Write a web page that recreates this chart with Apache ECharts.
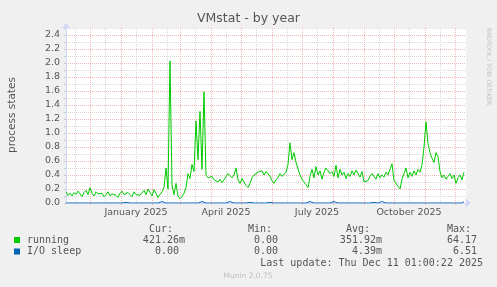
<!DOCTYPE html>
<html><head><meta charset="utf-8">
<script src="https://cdn.jsdelivr.net/npm/echarts@6/dist/echarts.min.js"></script>
<style>html,body{margin:0;padding:0;background:#f0f0f0}#c{width:497px;height:287px}</style>
</head><body><div id="c"></div>
<script>
const chartTitle = 'VMstat - by year';
const yAxisName = 'process states';
const startDate = '2024-11-07';
const endDate = '2025-12-12';
const stepDays = 2;
const running = [
0.16,0.11,0.14,0.10,0.15,0.12,0.17,0.13,0.09,0.15,
0.18,0.12,0.22,0.14,0.10,0.16,0.13,0.11,0.14,0.09,
0.12,0.16,0.10,0.13,0.15,0.11,0.08,0.14,0.17,0.12,
0.10,0.15,0.13,0.09,0.16,0.12,0.14,0.11,
0.13,0.18,0.12,0.20,0.15,0.10,0.19,0.14,0.08,0.12,0.16,0.22,
0.50,0.20,2.03,0.26,0.12,0.28,0.10,0.06,0.09,0.14,
0.22,0.42,0.35,0.55,0.45,1.17,0.62,1.31,0.48,1.59,
0.40,0.36,0.34,0.38,0.33,0.35,0.30,0.34,0.29,0.33,
0.31,0.42,0.44,0.36,0.40,0.50,0.33,0.28,0.35,0.30,
0.25,0.22,0.28,0.36,0.40,0.38,0.44,0.42,0.46,0.40,
0.45,0.43,0.38,0.32,0.28,0.33,0.36,0.42,0.38,0.40,
0.44,0.55,0.86,0.62,0.72,0.58,0.60,0.40,0.34,0.30,
0.26,0.22,0.38,0.48,0.36,0.52,0.40,0.46,0.34,0.44,
0.50,0.48,0.42,0.45,0.38,0.54,0.36,0.48,0.40,0.44,
0.35,0.42,0.38,0.46,0.40,0.47,0.42,0.37,0.45,0.30,
0.28,0.32,0.38,0.42,0.40,0.34,0.42,0.36,0.40,0.37,
0.44,0.40,0.48,0.56,0.32,0.30,0.24,0.20,0.34,0.42,
0.50,0.36,0.44,0.38,0.46,0.40,0.48,0.44,0.54,0.80,
1.16,0.85,0.72,0.64,0.58,0.72,0.66,0.45,0.36,0.40,
0.34,0.38,0.42,0.35,0.40,0.28,0.36,0.40,0.33,0.44
];
const ioSleep = [
0,0,0,0,0,0,0,0,0,0,0,0,0,0.02,0,0,0,0,0,0,
0,0,0,0,0,0,0,0.02,0,0,0.01,0,0,0,0,0,0,0.02,0,0,
0,0,0,0.02,0,0,0,0,0.02,0,0,0,0,0.01,0,0,0,0.02,0,0,
0,0,0,0,0,0,0,0,0.02,0,0,0.01,0,0,0,0,0,0,0,0,
0,0,0.02,0,0,0.02,0,0,0,0,0,0,0.01,0,0,0,0,0,0,0.02,
0,0,0.01,0,0,0,0,0,0,0,0,0,0,0,0,0.02,0,0,0,0,
0,0,0.02,0,0,0,0,0.01,0,0,0,0,0,0,0.02,0,0,0,0,0,
0,0,0,0.02,0,0,0,0,0,0,0,0,0,0,0.01,0,0,0,0.02,0,
0,0,0,0,0,0,0,0,0,0,0,0,0,0,0,0,0,0.02,0,0,
0,0.02,0,0,0,0.01,0,0,0,0.02,0,0,0,0.02,0,0,0,0.01,0,0.02
];
const monthStarts = ['2024-12-01','2025-01-01','2025-02-01','2025-03-01','2025-04-01','2025-05-01','2025-06-01','2025-07-01','2025-08-01','2025-09-01','2025-10-01','2025-11-01','2025-12-01'];
const midMonths = ['2024-11-16','2024-12-16','2025-01-16','2025-02-16','2025-03-16','2025-04-16','2025-05-16','2025-06-16','2025-07-16','2025-08-16','2025-09-16','2025-10-16','2025-11-16'];
const labelDates = ['2025-01-16','2025-04-16','2025-07-16','2025-10-16'];
const labelTexts = ['January 2025','April 2025','July 2025','October 2025'];
const legendNames = ['running','I/O sleep'];
const legendColors = ['#00cc00','#0066b3'];
const legendHeaders = ['Cur:','Min:','Avg:','Max:'];
const runningStats = ['421.26m','0.00','351.92m','64.17'];
const ioSleepStats = ['0.00','0.00','4.39m','6.51'];
const lastUpdate = 'Last update: Thu Dec 11 01:00:22 2025';
const footer = 'Munin 2.0.75';
const watermark = 'RRDTOOL / TOBI OETIKER';

const DAY = 86400000;
const t = s => Date.parse(s + 'T00:00:00Z');
const t0 = t(startDate);
const toPairs = arr => arr.map((v, i) => [t0 + i * stepDays * DAY, v]);
const labelMap = {};
labelDates.forEach((d, i) => { labelMap[t(d)] = labelTexts[i]; });

const FONT = 'DejaVu Sans';
const MONO = 'DejaVu Sans Mono';
const TXT = '#555555';
const MAJOR = '#f2b6b6';
const MINOR = '#dadada';
const AXIS = '#cfd6f8';

const chart = echarts.init(document.getElementById('c'), null, {renderer: 'canvas'});

function txt(x, y, text, opts) {
  opts = opts || {};
  return {
    type: 'text', x: x, y: y, rotation: opts.rotation || 0, silent: true, z: 100,
    style: {
      text: text, fill: opts.color || TXT,
      font: (opts.size || 10) + 'px "' + (opts.family || MONO) + '"',
      align: opts.align || 'left', verticalAlign: 'middle',
      textAlign: opts.align || 'left', textVerticalAlign: 'middle'
    }
  };
}

const colRight = [185, 284, 382, 483];
const graphics = [];
graphics.push(txt(248.5, 19, chartTitle, {family: FONT, size: 12.5, align: 'center'}));
graphics.push(txt(12, 115, yAxisName, {family: FONT, size: 10.5, align: 'center', rotation: Math.PI / 2}));
graphics.push(txt(489, 28, watermark, {family: FONT, size: 6, align: 'left', rotation: -Math.PI / 2, color: '#c4c4c4'}));
legendHeaders.forEach((h, i) => graphics.push(txt(colRight[i] - 12, 229, h, {align: 'right'})));
[runningStats, ioSleepStats].forEach((row, r) => {
  const y = 240 + r * 11.5;
  graphics.push({type: 'rect', shape: {x: 14, y: y - 3, width: 6, height: 6}, style: {fill: legendColors[r]}, silent: true, z: 100});
  graphics.push(txt(27, y, legendNames[r]));
  row.forEach((v, i) => {
    const hasUnit = /[a-zA-Z]$/.test(v);
    graphics.push(txt(colRight[i] - (hasUnit ? 0 : 6), y, v, {align: 'right'}));
  });
});
graphics.push(txt(483, 263.5, lastUpdate, {align: 'right'}));
graphics.push(txt(248, 276, footer, {family: FONT, size: 7.5, align: 'center', color: '#c0c0c0'}));

const option = {
  animation: false,
  backgroundColor: '#f0f0f0',
  grid: {left: 66, top: 28, width: 400, height: 175, show: true, backgroundColor: '#ffffff', borderWidth: 0, outerBoundsMode: 'none', containLabel: false},
  xAxis: [
    {
      type: 'value', min: t0, max: t(endDate), position: 'bottom',
      axisLine: {show: true, onZero: false, lineStyle: {color: AXIS, width: 1}, symbol: ['none', 'arrow'], symbolSize: [7, 6], symbolOffset: [0, 5]},
      axisTick: {show: true, length: 2, lineStyle: {color: MAJOR}, customValues: monthStarts.map(t)},
      splitLine: {show: true, customValues: monthStarts.map(t), lineStyle: {color: MAJOR, width: 1, type: [1, 1]}},
      axisLabel: {show: true, customValues: labelDates.map(t), formatter: v => labelMap[v] || '', color: TXT, fontFamily: FONT, fontSize: 9.5, margin: 5}
    },
    {
      type: 'value', min: t0, max: t(endDate), position: 'bottom',
      axisLine: {show: false}, axisLabel: {show: false},
      axisTick: {show: false, customValues: midMonths.map(t)},
      splitLine: {show: true, customValues: midMonths.map(t), lineStyle: {color: MINOR, width: 1, type: [1, 1]}}
    }
  ],
  yAxis: {
    type: 'value', min: 0, max: 2.5, interval: 0.1,
    axisLine: {show: true, onZero: false, lineStyle: {color: AXIS, width: 1}, symbol: ['none', 'arrow'], symbolSize: [7, 6], symbolOffset: [0, 5]},
    axisTick: {show: true, length: 2, lineStyle: {color: '#c8c8c8'}},
    axisLabel: {
      color: TXT, fontFamily: FONT, fontSize: 9.5, margin: 6,
      formatter: v => { const k = Math.round(v * 10); return (k % 2 === 0 && k <= 24) ? (k / 10).toFixed(1) : ''; }
    },
    splitLine: {show: true, lineStyle: {color: [MAJOR, MINOR], width: 1, type: [1, 1]}}
  },
  series: [
    {name: legendNames[0], type: 'line', xAxisIndex: 0, data: toPairs(running), symbol: 'none', showSymbol: false,
     lineStyle: {color: legendColors[0], width: 1}, z: 3},
    {name: legendNames[1], type: 'line', xAxisIndex: 0, data: toPairs(ioSleep), symbol: 'none', showSymbol: false,
     lineStyle: {color: legendColors[1], width: 1}, z: 4}
  ],
  graphic: graphics
};
chart.setOption(option);
</script></body></html>
